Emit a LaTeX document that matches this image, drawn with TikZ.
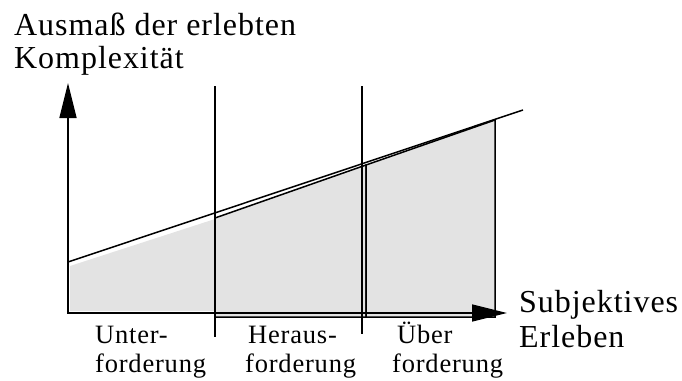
\documentclass[tikz,border=0pt]{standalone}
\usepackage{fontspec}
\setmainfont{Liberation Serif}[LetterSpace=3.0]
\usetikzlibrary{arrows.meta,positioning}

\begin{document}
\begin{tikzpicture}[
    x=1pt, y=-1pt,
    axis/.style={line width=1.5pt, {Triangle[length=35pt,width=17pt]}-{Triangle[length=35pt,width=17pt]}},
    bar/.style={line width=1.5pt},
    zone/.style={fill=black!11, draw, line width=1.5pt},
    biglab/.style={font=\fontsize{32}{35}\selectfont, anchor=base west, inner sep=0pt},
    smalllab/.style={font=\fontsize{26.5}{29}\selectfont, anchor=base west, inner sep=0pt}
]
    \useasboundingbox (0,0) rectangle (682,380);
    \coordinate (O) at (68,313);
    \coordinate (ytip) at (68,83);
    \coordinate (xtip) at (507,313);
    % shaded areas
    \fill [black!11] (70,311) -- (70,266) -- (215,219) -- (215,311) -- cycle;
    \draw [zone] (215,317) -- (215,218) -- (366,165) -- (366,317) -- cycle;
    \draw [zone] (366,317) -- (366,165) -- (495,120) -- (495,317) -- cycle;
    % axes
    \draw [axis] (ytip) -- (O) -- (xtip);
    % borders between the zones
    \draw [bar] (215,86) -- (215,337);
    \draw [bar] (362,86) -- (362,334);
    \draw [bar] (68,262) -- (523,110);
    % labels
    \node [biglab] (ytitle) at (14,35) {Ausmaß der erlebten};
    \node [biglab] (ytitleb) at (14,68) {Komplexität};
    \node [biglab] (xtitle) at (519,312) {Subjektives};
    \node [biglab] (xtitleb) at (519,347) {Erleben};
    \node [smalllab] (unter) at (95,343) {Unter-};
    \node [smalllab] (unterb) at (95,372) {forderung};
    \node [smalllab] (heraus) at (248,343) {Heraus-};
    \node [smalllab] (herausb) at (245,372) {forderung};
    \node [smalllab] (ueber) at (397,343) {Über};
    \node [smalllab] (ueberb) at (392,372) {forderung};
\end{tikzpicture}
\end{document}
